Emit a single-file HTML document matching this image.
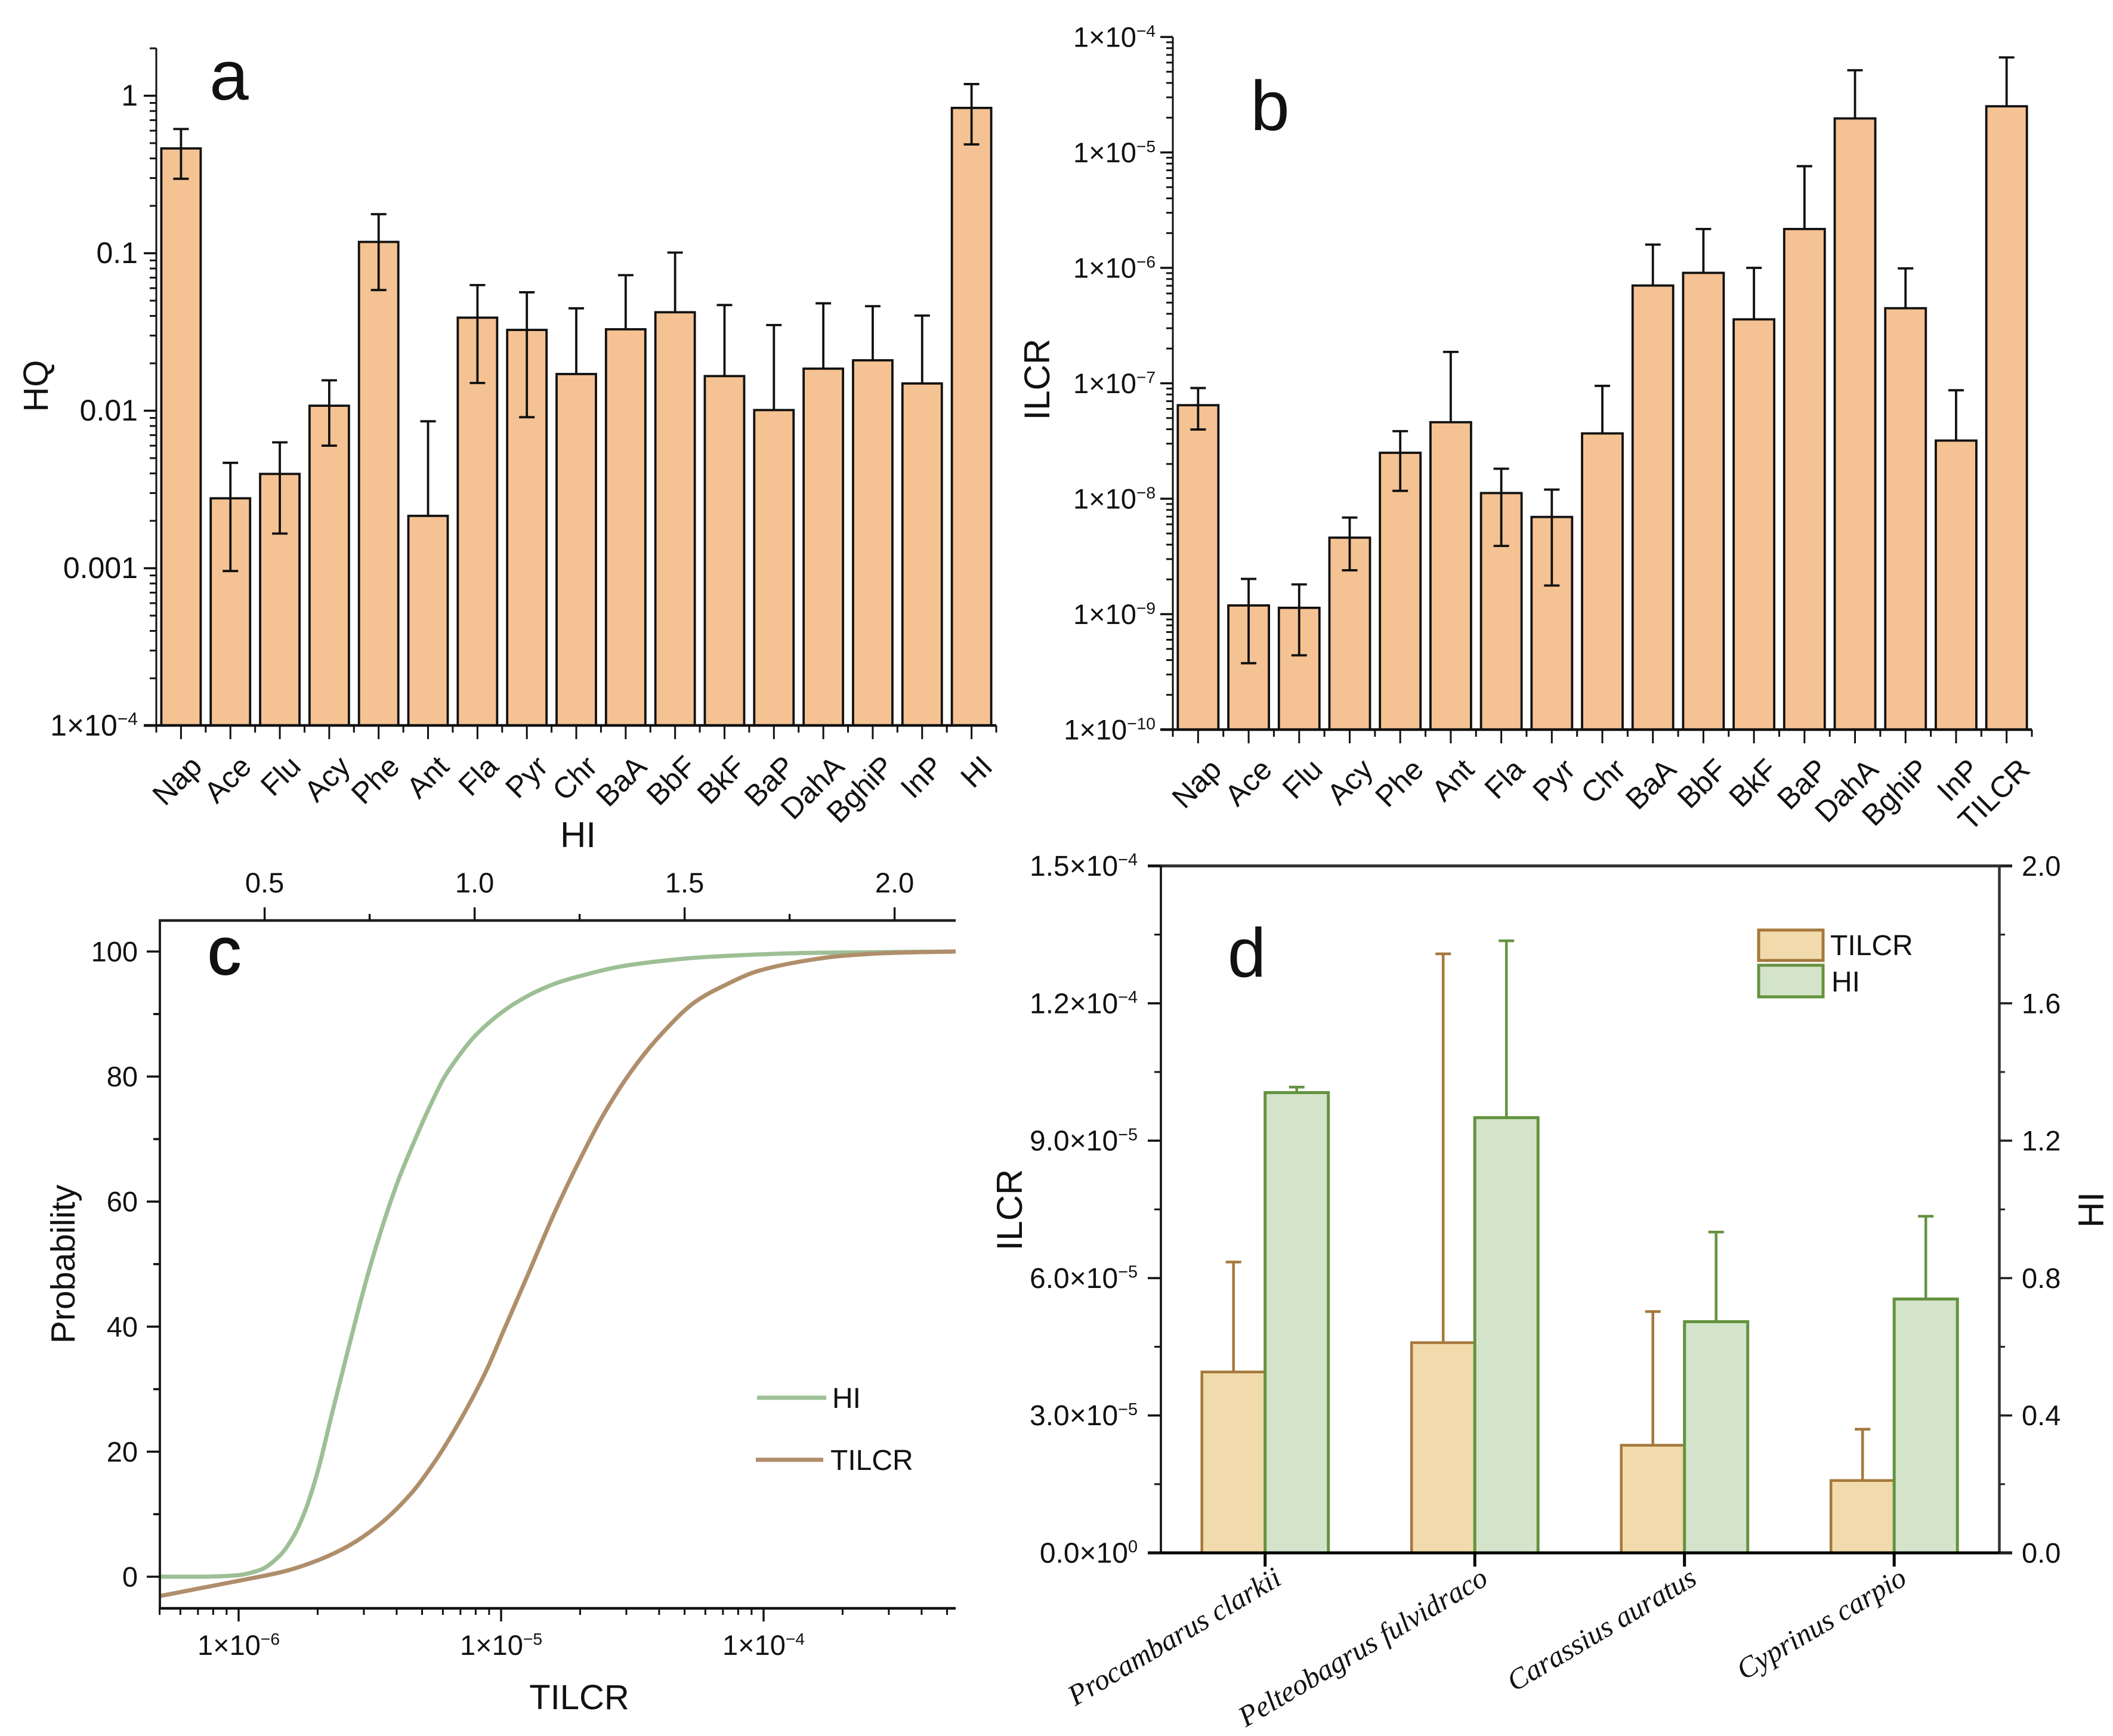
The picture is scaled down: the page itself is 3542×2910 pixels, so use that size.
<!DOCTYPE html>
<html lang="en">
<head>
<meta charset="utf-8">
<title>PAH risk assessment charts</title>
<style>
html,body{margin:0;padding:0;background:#fff;}
svg{display:block;position:absolute;left:0;top:0;}
text{font-family:"Liberation Sans",Arial,sans-serif;fill:#111;}
</style>
</head>
<body>
<svg id="figure" xmlns="http://www.w3.org/2000/svg" width="3542" height="2910" viewBox="0 0 3542 2910"></svg>
<script>
// Panel a data
const aCategories = ['Nap','Ace','Flu','Acy','Phe','Ant','Fla','Pyr','Chr','BaA','BbF','BkF','BaP','DahA','BghiP','InP','HI'];
const aValues = [0.463,0.00278,0.00397,0.01076,0.118,0.00215,0.039,0.0326,0.0171,0.0329,0.0422,0.0166,0.0101,0.0185,0.0209,0.0149,0.837];
const aUpper = [0.615,0.00467,0.0063,0.0156,0.177,0.00857,0.0628,0.0565,0.0447,0.0726,0.101,0.0469,0.035,0.0481,0.0461,0.0402,1.186];
const aLower = [0.297,0.00096,0.00166,0.006,0.0584,null,0.015,0.0091,null,null,null,null,null,null,null,null,0.491];
const aTickValues = [1,0.1,0.01,0.001,0.0001];
const aTickLabels = ['1','0.1','0.01','0.001','1×10^−4'];

// Panel b data
const bCategories = ['Nap','Ace','Flu','Acy','Phe','Ant','Fla','Pyr','Chr','BaA','BbF','BkF','BaP','DahA','BghiP','InP','TILCR'];
const bValues = [6.46e-8,1.19e-9,1.135e-9,4.6e-9,2.5e-8,4.6e-8,1.12e-8,6.95e-9,3.68e-8,7.03e-7,9.05e-7,3.58e-7,2.17e-6,1.97e-5,4.47e-7,3.19e-8,2.51e-5];
const bUpper = [9.1e-8,2.02e-9,1.81e-9,6.87e-9,3.85e-8,1.87e-7,1.82e-8,1.2e-8,9.5e-8,1.59e-6,2.17e-6,1e-6,7.6e-6,5.15e-5,9.9e-7,8.7e-8,6.65e-5];
const bLower = [3.98e-8,3.76e-10,4.4e-10,2.4e-9,1.17e-8,null,3.9e-9,1.77e-9,null,null,null,null,null,null,null,null,null];
const bTickValues = [1e-4,1e-5,1e-6,1e-7,1e-8,1e-9,1e-10];
const bTickLabels = ['1×10^−4','1×10^−5','1×10^−6','1×10^−7','1×10^−8','1×10^−9','1×10^−10'];

// Panel c data
const hiCurveX = [0.25,0.35,0.43,0.49,0.535,0.57,0.599,0.627,0.659,0.699,0.752,0.817,0.858,0.898,0.928,0.958,0.998,1.048,1.098,1.147,1.197,1.247,1.347,1.446,1.546,1.813,2.145];
const hiCurveProb = [0,0,0.2,1.1,3.3,6.6,11,17,25.7,36.4,49.8,63.2,69.9,75.9,79.9,82.9,86.3,89.4,91.8,93.6,95,96,97.6,98.5,99.1,99.8,100];
const tilcrCurveLog = [-6.3,-6.141,-5.981,-5.822,-5.694,-5.583,-5.471,-5.343,-5.248,-5.152,-5.056,-4.993,-4.897,-4.801,-4.706,-4.61,-4.498,-4.387,-4.259,-4.148,-4.02,-3.8,-3.704,-3.5,-3.268];
const tilcrCurveProb = [-3.1,-1.8,-0.5,0.9,2.7,4.9,8.1,13.3,18.7,25.3,33,39.1,48.4,57.8,66.2,73.9,81.2,86.9,92,94.6,96.9,98.8,99.3,99.8,100];
const cYTicks = [0,20,40,60,80,100];
const cYMinor = [10,30,50,70,90];
const cTopTicks = [0.5,1.0,1.5,2.0];
const cTopMinor = [0.75,1.25,1.75];
const cTopLabels = ['0.5','1.0','1.5','2.0'];
const cBottomExps = [-6,-5,-4];
const cBottomLabels = ['1×10^−6','1×10^−5','1×10^−4'];

// Panel d data
const dCategories = ['Procambarus clarkii','Pelteobagrus fulvidraco','Carassius auratus','Cyprinus carpio'];
const dTilcr = [3.95e-5,4.59e-5,2.35e-5,1.58e-5];
const dTilcrUpper = [6.35e-5,13.08e-5,5.27e-5,2.70e-5];
const dHi = [1.34,1.267,0.673,0.739];
const dHiUpper = [1.356,1.782,0.934,0.98];
const dLeftTicks = [0,3e-5,6e-5,9e-5,12e-5,15e-5];
const dLeftLabels = ['0.0×10^0','3.0×10^−5','6.0×10^−5','9.0×10^−5','1.2×10^−4','1.5×10^−4'];
const dRightTicks = [0,0.4,0.8,1.2,1.6,2.0];
const dRightLabels = ['0.0','0.4','0.8','1.2','1.6','2.0'];

const svg = document.getElementById('figure');
const NS = 'http://www.w3.org/2000/svg';

function add(tag, attrs, name, parent) {
  const el = document.createElementNS(NS, tag);
  for (const k in attrs) el.setAttribute(k, attrs[k]);
  
  
  (parent || svg).appendChild(el);
  return el;
}
function line(x1, y1, x2, y2, color, w, name, parent) {
  return add('line', {x1, y1, x2, y2, stroke: color, 'stroke-width': w}, name, parent);
}
function label(str, x, y, size, anchor, name, parent, transform) {
  const attrs = {x, y, 'font-size': size, 'text-anchor': anchor};
  if (transform) attrs.transform = transform;
  const el = add('text', attrs, name, parent);
  const parts = str.split('^');
  const base = document.createElementNS(NS, 'tspan');
  base.textContent = parts[0];
  el.appendChild(base);
  if (parts[1] !== undefined) {
    const sup = document.createElementNS(NS, 'tspan');
    sup.setAttribute('dy', -size * 0.36);
    sup.setAttribute('font-size', size * 0.6);
    sup.textContent = parts[1];
    el.appendChild(sup);
  }
  return el;
}
function errorBar(x, yTop, yBase, yLow, color, w, cap, group, name) {
  line(x, yBase, x, yTop, color, w, name + '-stem', group);
  line(x - cap, yTop, x + cap, yTop, color, w, name + '-cap', group);
  if (yLow !== null) {
    line(x, yBase, x, yLow, color, w, name + '-lower-stem', group);
    line(x - cap, yLow, x + cap, yLow, color, w, name + '-lower-cap', group);
  }
}

function logBarPanel(cfg) {
  const g = add('g', {}, cfg.name);
  const spacing = (cfg.right - cfg.left) / cfg.cats.length;
  const cx = i => cfg.left + spacing * (i + 0.5);
  cfg.cats.forEach((c, i) => {
    const top = cfg.y(cfg.values[i]);
    add('rect', {x: cx(i) - cfg.barW / 2, y: top, width: cfg.barW, height: cfg.bottom - top, fill: '#f5c293', stroke: '#111', 'stroke-width': 3.8}, 'bar-' + c.toLowerCase(), g);
  });
  cfg.cats.forEach((c, i) => {
    const low = cfg.lower[i] === null ? null : cfg.y(cfg.lower[i]);
    errorBar(cx(i), cfg.y(cfg.upper[i]), cfg.y(cfg.values[i]), low, '#111', 3.8, 13, g, 'error-bar-' + c.toLowerCase());
  });
  line(cfg.left, cfg.top, cfg.left, cfg.bottom + 2, '#111', 3, 'y-axis-line', g);
  line(cfg.left - 21, cfg.bottom, cfg.right, cfg.bottom, '#111', 4.5, 'x-axis-line', g);
  cfg.tickValues.forEach((v, i) => {
    const y = cfg.y(v);
    line(cfg.left - 21, y, cfg.left, y, '#111', 3.6, 'y-tick', g);
    label(cfg.tickLabels[i], cfg.labelRight, y + 16.5, cfg.tickFont, 'end', 'y-tick-label', g);
  });
  for (let e = cfg.minExp; e < cfg.maxExp; e++) {
    for (let m = 2; m <= 9; m++) {
      const v = m * Math.pow(10, e);
      const y = cfg.y(v);
      if (y < cfg.top) continue;
      line(cfg.left - 11, y, cfg.left, y, '#111', 3, 'y-minor-tick', g);
    }
  }
  cfg.cats.forEach((c, i) => {
    line(cx(i), cfg.bottom, cx(i), cfg.bottom + 23, '#111', 3, 'x-tick', g);
    line(cx(i) + spacing / 2, cfg.bottom, cx(i) + spacing / 2, cfg.bottom + 12, '#111', 3, 'x-minor-tick', g);
    if (i === 0) line(cfg.left, cfg.bottom, cfg.left, cfg.bottom + 12, '#111', 3, 'x-minor-tick', g);
    const lx = cx(i) + cfg.labelDx, ly = cfg.bottom + cfg.labelDy;
    label(c, lx, ly, 50, 'end', 'x-tick-label', g, 'rotate(-45 ' + lx + ' ' + ly + ')');
  });
}

// ---------- Panel a ----------
const yA = v => 160.5 - Math.log10(v) * 264;
logBarPanel({name: 'panel-a', cats: aCategories, values: aValues, upper: aUpper, lower: aLower,
  left: 262, right: 1670, top: 81, bottom: 1216, barW: 66, y: yA, tickFont: 50,
  tickValues: aTickValues, tickLabels: aTickLabels, minExp: -4, maxExp: 1,
  labelRight: 231, labelDx: 38, labelDy: 72});
label('HQ', 80, 647, 58, 'middle', 'y-axis-title-hq', svg, 'rotate(-90 80 647)');
label('HI', 969, 1420, 60, 'middle', 'x-axis-title-hi');
label('a', 384, 167, 118, 'middle', 'panel-label-a');

// ---------- Panel b ----------
const yB = v => 62 + (-4 - Math.log10(v)) * 193.5;
logBarPanel({name: 'panel-b', cats: bCategories, values: bValues, upper: bUpper, lower: bLower,
  left: 1966, right: 3406, top: 62, bottom: 1223, barW: 68, y: yB, tickFont: 47,
  tickValues: bTickValues, tickLabels: bTickLabels, minExp: -10, maxExp: -4,
  labelRight: 1937, labelDx: 42, labelDy: 70});
label('ILCR', 1759, 636, 60, 'middle', 'y-axis-title-ilcr', svg, 'rotate(-90 1759 636)');
label('b', 2129, 218, 118, 'middle', 'panel-label-b');

// ---------- Panel c ----------
(function () {
  const g = add('g', {}, 'panel-c');
  const L = 268, R = 1602, T = 1543, B = 2696;
  const xLog = l => 400 + (l + 6) * 440;
  const xTop = v => 443.6 + (v - 0.5) * 704;
  const yC = p => 2643 - p * 10.48;
  // Monotone cubic through the points (x strictly increasing), so uneven spacing leaves no kinks.
  function smooth(pts) {
    const n = pts.length;
    const h = [], d = [], m = [];
    for (let i = 0; i < n - 1; i++) {
      h[i] = pts[i + 1][0] - pts[i][0];
      d[i] = (pts[i + 1][1] - pts[i][1]) / h[i];
    }
    m[0] = d[0];
    m[n - 1] = d[n - 2];
    for (let i = 1; i < n - 1; i++) {
      if (d[i - 1] * d[i] <= 0) { m[i] = 0; continue; }
      const w1 = 2 * h[i] + h[i - 1], w2 = h[i] + 2 * h[i - 1];
      m[i] = (w1 + w2) / (w1 / d[i - 1] + w2 / d[i]);
    }
    let path = 'M' + pts[0][0] + ' ' + pts[0][1];
    for (let i = 0; i < n - 1; i++) {
      path += ' C' + (pts[i][0] + h[i] / 3) + ' ' + (pts[i][1] + m[i] * h[i] / 3) + ' ' +
        (pts[i + 1][0] - h[i] / 3) + ' ' + (pts[i + 1][1] - m[i + 1] * h[i] / 3) + ' ' +
        pts[i + 1][0] + ' ' + pts[i + 1][1];
    }
    return path;
  }
  add('path', {d: smooth(hiCurveX.map((v, i) => [xTop(v), yC(hiCurveProb[i])])), fill: 'none', stroke: '#9dbf95', 'stroke-width': 7}, 'hi-curve', g);
  add('path', {d: smooth(tilcrCurveLog.map((v, i) => [xLog(v), yC(tilcrCurveProb[i])])), fill: 'none', stroke: '#b08e6b', 'stroke-width': 7}, 'tilcr-curve', g);

  line(L, T - 2, L, B + 2, '#222', 4, 'y-axis-line', g);
  line(L - 2, T, R, T, '#222', 4.5, 'top-axis-line', g);
  line(L - 2, B, R, B, '#111', 4.5, 'x-axis-line', g);

  cYTicks.forEach(p => {
    line(L - 22, yC(p), L, yC(p), '#111', 3.6, 'y-tick', g);
    label(String(p), 231, yC(p) + 16.5, 47, 'end', 'y-tick-label', g);
  });
  cYMinor.forEach(p => line(L - 11, yC(p), L, yC(p), '#111', 3.6, 'y-minor-tick', g));
  cTopTicks.forEach((v, i) => {
    line(xTop(v), T, xTop(v), T - 22, '#111', 3.4, 'top-tick', g);
    label(cTopLabels[i], xTop(v), 1496, 47, 'middle', 'top-tick-label', g);
  });
  cTopMinor.forEach(v => line(xTop(v), T, xTop(v), T - 11, '#111', 3.4, 'top-minor-tick', g));
  cBottomExps.forEach((e, i) => {
    const x = xLog(e);
    line(x, B, x, B + 22, '#111', 3.4, 'x-tick', g);
    label(cBottomLabels[i], x, 2774, 47, 'middle', 'x-tick-label', g);
  });
  for (let e = -7; e <= -4; e++) {
    for (let m = 2; m <= 9; m++) {
      const x = xLog(e + Math.log10(m));
      if (x < L - 1 || x > R) continue;
      line(x, B, x, B + 11, '#111', 3, 'x-minor-tick', g);
    }
  }
  line(1269, 2343, 1385, 2343, '#9dbf95', 7, 'legend-hi-line', g);
  label('HI', 1395, 2360, 48, 'start', 'legend-hi-label', g);
  line(1267, 2447, 1380, 2447, '#b08e6b', 7, 'legend-tilcr-line', g);
  label('TILCR', 1392, 2464, 48, 'start', 'legend-tilcr-label', g);
  label('TILCR', 971, 2865, 58, 'middle', 'x-axis-title-tilcr', g);
  label('Probability', 125, 2119, 57, 'middle', 'y-axis-title-probability', g, 'rotate(-90 125 2119)');
  const c = label('c', 376, 1633, 112, 'middle', 'panel-label-c', g);
  c.setAttribute('stroke', '#111');
  c.setAttribute('stroke-width', 2);
})();

// ---------- Panel d ----------
(function () {
  const g = add('g', {}, 'panel-d');
  const L = 1946, R = 3351.5, T = 1451.5, B = 2603;
  const BW = 106;
  const centers = i => 2120.7 + i * 351.5;
  const yL = v => B - v / 15e-5 * (B - T);
  const yR = v => B - v / 2 * (B - T);
  const TIL_FILL = '#f1dbac', TIL_STROKE = '#a5783c', HI_FILL = '#d4e4ca', HI_STROKE = '#64933f';

  dCategories.forEach((c, i) => {
    const cx = centers(i);
    line(cx - BW / 2, yL(dTilcrUpper[i]), cx - BW / 2, yL(dTilcr[i]), TIL_STROKE, 4.5, 'tilcr-error-stem', g);
    line(cx - BW / 2 - 13, yL(dTilcrUpper[i]), cx - BW / 2 + 13, yL(dTilcrUpper[i]), TIL_STROKE, 4.5, 'tilcr-error-cap', g);
    line(cx + BW / 2, yR(dHiUpper[i]), cx + BW / 2, yR(dHi[i]), HI_STROKE, 4.5, 'hi-error-stem', g);
    line(cx + BW / 2 - 13, yR(dHiUpper[i]), cx + BW / 2 + 13, yR(dHiUpper[i]), HI_STROKE, 4.5, 'hi-error-cap', g);
    add('rect', {x: cx - BW, y: yL(dTilcr[i]), width: BW, height: B - yL(dTilcr[i]), fill: TIL_FILL, stroke: TIL_STROKE, 'stroke-width': 4.5}, 'bar-tilcr', g);
    add('rect', {x: cx, y: yR(dHi[i]), width: BW, height: B - yR(dHi[i]), fill: HI_FILL, stroke: HI_STROKE, 'stroke-width': 5}, 'bar-hi', g);
  });

  line(L - 22, T, 3373, T, '#333', 5, 'top-axis-line', g);
  line(R, T, R, B, '#333', 4.5, 'right-axis-line', g);
  line(L, T, L, B, '#111', 3.6, 'left-axis-line', g);
  line(L - 22, B, 3373, B, '#000', 5, 'bottom-axis-line', g);

  dLeftTicks.forEach((v, i) => {
    line(L - 22, yL(v), L, yL(v), '#111', 3.6, 'left-tick', g);
    label(dLeftLabels[i], 1907, yL(v) + 16.5, 48, 'end', 'left-tick-label', g);
    if (i < dLeftTicks.length - 1) {
      const m = yL(v + 1.5e-5);
      line(L - 11, m, L, m, '#111', 3, 'left-minor-tick', g);
    }
  });
  dRightTicks.forEach((v, i) => {
    line(R, yR(v), 3373, yR(v), '#222', 3.6, 'right-tick', g);
    label(dRightLabels[i], 3389, yR(v) + 16.5, 47, 'start', 'right-tick-label', g);
    if (i < dRightTicks.length - 1) {
      const m = yR(v + 0.2);
      line(R, m, 3361, m, '#222', 3, 'right-minor-tick', g);
    }
  });
  const ends = [2151, 2497, 2847, 3199];
  dCategories.forEach((c, i) => {
    const cx = centers(i);
    line(cx, B, cx, B + 23, '#000', 5, 'x-tick', g);
    const t = label(c, ends[i], 2654, 49, 'end', 'x-tick-label', g, 'rotate(-30.6 ' + ends[i] + ' 2654)');
    t.setAttribute('font-style', 'italic');
    t.setAttribute('style', 'font-family:"Liberation Serif","Times New Roman",serif');
  });
  add('rect', {x: 2948, y: 1559, width: 108, height: 51, fill: TIL_FILL, stroke: TIL_STROKE, 'stroke-width': 5}, 'legend-tilcr-swatch', g);
  add('rect', {x: 2948, y: 1618, width: 108, height: 53, fill: HI_FILL, stroke: HI_STROKE, 'stroke-width': 5}, 'legend-hi-swatch', g);
  label('TILCR', 3068, 1601, 48, 'start', 'legend-tilcr-label', g);
  label('HI', 3070, 1662, 48, 'start', 'legend-hi-label', g);
  label('ILCR', 1713, 2028, 60, 'middle', 'left-axis-title-ilcr', g, 'rotate(-90 1713 2028)');
  label('HI', 3526, 2028, 60, 'middle', 'right-axis-title-hi', g, 'rotate(-90 3526 2028)');
  label('d', 2090, 1637, 116, 'middle', 'panel-label-d', g);
})();
</script>
</body>
</html>
